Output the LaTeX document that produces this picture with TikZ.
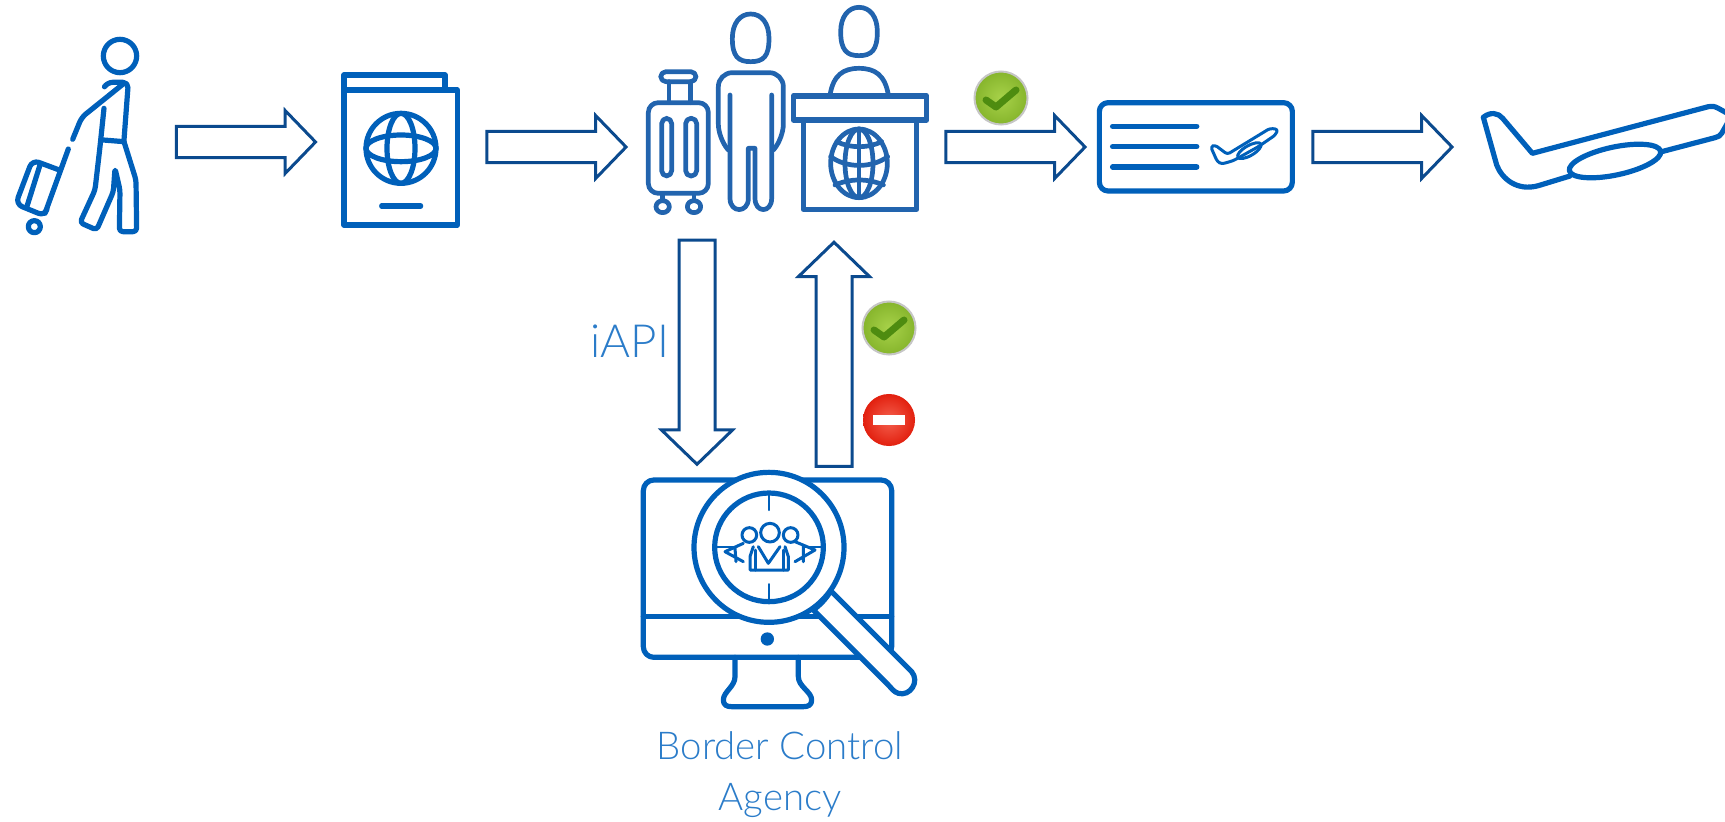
\documentclass[tikz,border=0pt]{standalone}
\usepackage{fontspec}
\usetikzlibrary{shapes.arrows}
\newfontfamily\thinfont{Lato Light}
\definecolor{iconblue}{HTML}{0060BA}
\definecolor{deskblue}{HTML}{2264AE}
\definecolor{arrowblue}{HTML}{0B4A8E}
\definecolor{textblue}{HTML}{2B7CC9}
\definecolor{okinner}{HTML}{A8D24A}
\definecolor{okouter}{HTML}{86B52C}
\definecolor{okdark}{HTML}{4E8C10}
\definecolor{noinner}{HTML}{F4604E}
\definecolor{noouter}{HTML}{E2200F}
\tikzset{
  icon/.style={draw=iconblue,line width=0.052cm,line cap=round,line join=round},
  thin icon/.style={icon,line width=0.03cm},
  desk/.style={draw=deskblue,line width=0.047cm,line cap=round,line join=round},
  blockarrow/.style={single arrow,draw=arrowblue,line width=0.03cm,inner sep=0.14cm,
    minimum height=1.39cm,single arrow head extend=0.16cm,single arrow tip angle=92},
  longarrow/.style={blockarrow,inner sep=0.165cm,minimum height=2.24cm,
    single arrow head extend=0.175cm,shape border rotate=#1},
  okball/.style={circle,draw=gray!45,line width=0.02cm,inner sep=0pt,minimum size=0.53cm,
    inner color=okinner,outer color=okouter},
  okcheck/.style={draw=okdark,line width=0.07cm,line cap=round,line join=round},
  noball/.style={circle,inner sep=0pt,minimum size=0.52cm,inner color=noinner,outer color=noouter},
  label/.style={text=textblue,font=\thinfont\fontsize{10.9pt}{14pt}\selectfont,inner sep=0pt}
}
\begin{document}
\begin{tikzpicture}[x=0.01cm,y=-0.01cm]
\useasboundingbox (0,0) rectangle (1725,821);

\node[blockarrow] (a1) at (238.5,142) {};
\node[blockarrow] (a2) at (549,147) {};
\node[blockarrow] (a3) at (1008,147) {};
\node[blockarrow] (a4) at (1375,147) {};
\node[longarrow=270] (down) at (697,343.5) {};
\node[longarrow=90] (up) at (834,363) {};

%traveller
\begin{scope}[scale=1/3]
\draw[icon] (360,168) circle (50);
\draw[icon,rounded corners=1.5pt] (315,258) -- (322,247) -- (385,247) -- (372,420);
\draw[icon,rounded corners=1.5pt] (372,250) -- (245,352) -- (218,418);
\draw[icon] (310,420) -- (372,425);
\draw[icon,rounded corners=1pt] (312,325) -- (300,440) -- (285,570) -- (240,668) -- (290,690) -- (340,575) -- (345,505) -- (360,570) -- (358,695) -- (410,695) -- (408,540) -- (372,425);
\draw[icon] (205,447) -- (135,640);
\draw[icon,rounded corners=2pt] (178,510) -- (97,480) -- (47,612) -- (135,648) -- (140,630);
\draw[icon] (120,495) -- (80,622);
\draw[icon] (103,680) circle (18);
\end{scope}

%passport
\begin{scope}[scale=1/3]
\draw[icon] (1032,268) -- (1032,225) -- (1335,225) -- (1335,268);
\draw[icon] (1032,270) rectangle (1372,675);
\draw[icon] (1203,445) circle (105);
\draw[icon] (1203,445) ellipse (42 and 105);
\draw[icon] (1203,445) ellipse (105 and 40);
\draw[icon] (1145,618) -- (1262,618);
\end{scope}

%check-in
\begin{scope}[shift={(620,0)},scale=1/3]
\draw[desk,rounded corners=2.8pt] (85,308) rectangle (265,580);
\draw[desk,rounded corners=1.5pt] (122,215) rectangle (228,245);
\draw[desk] (147,245) -- (147,308) (212,245) -- (212,308);
\draw[desk,rounded corners=1.5pt] (125,355) rectangle (155,528);
\draw[desk,rounded corners=1.5pt] (197,355) rectangle (230,528);
\draw[desk] (128,585) -- (128,600) (222,585) -- (222,600);
\draw[desk] (128,620) ellipse (20 and 18) (222,620) ellipse (20 and 18);
\draw[desk] (337,115) .. controls (337,70) and (360,42) .. (392,42) .. controls (425,42) and (447,70) .. (447,115) .. controls (447,170) and (430,185) .. (392,185) .. controls (355,185) and (337,170) .. (337,115) -- cycle;
\draw[desk,rounded corners=4pt] (325,450) -- (295,415) -- (295,218) -- (490,218) -- (490,415) -- (460,450);
\draw[desk] (330,285) -- (330,595) .. controls (330,640) and (385,640) .. (385,595) -- (385,445) -- (405,445) -- (405,595) .. controls (405,640) and (455,640) .. (455,595) -- (455,285);
\draw[desk] (662,95) .. controls (662,50) and (685,22) .. (717,22) .. controls (750,22) and (772,50) .. (772,95) .. controls (772,150) and (755,167) .. (717,167) .. controls (680,167) and (662,150) .. (662,95) -- cycle;
\draw[desk] (630,285) .. controls (640,225) and (670,205) .. (717,205) .. controls (765,205) and (795,225) .. (805,285);
\draw[desk,line width=0.055cm] (520,288) rectangle (920,360);
\draw[desk,line width=0.055cm] (550,360) -- (550,628) -- (890,628) -- (890,360);
\draw[desk] (717,490) ellipse (85 and 103);
\draw[desk] (717,490) ellipse (42 and 103);
\draw[desk] (717,387) -- (717,593);
\draw[desk] (650,425) .. controls (690,445) and (745,445) .. (785,425);
\draw[desk] (632,470) .. controls (680,505) and (755,505) .. (803,470);
\draw[desk] (645,555) .. controls (690,535) and (745,535) .. (790,555);
\end{scope}

%boarding pass
\begin{scope}[shift={(1090,90)},scale=1/3]
\draw[icon,rounded corners=2.5pt] (28,38) rectangle (607,303);
\draw[icon,line width=0.055cm] (68,109) -- (320,109) (68,170) -- (320,170) (68,231) -- (320,231);
\draw[thin icon,rounded corners=0.8pt] (362,170) -- (375,165) -- (412,193) -- (540,115) -- (564,118) -- (556,135) -- (505,170) -- (430,212) -- (395,222) -- (382,215) -- cycle;
\draw[thin icon,rotate around={30:(478,182)}] (478,182) ellipse (40 and 15);
\end{scope}

%plane
\begin{scope}[shift={(1470,90)},scale=1/3]
\draw[icon] (40,82) .. controls (60,65) and (85,68) .. (98,85) -- (187,190) -- (715,50) .. controls (725,46) and (735,50) .. (745,55) -- (772,70);
\draw[icon] (772,100) -- (755,130) .. controls (750,138) and (745,140) .. (735,143) -- (575,185);
\draw[icon] (300,258) -- (205,287) .. controls (140,305) and (95,265) .. (80,225) -- (40,82);
\draw[icon,rotate around={12:(435,213)}] (435,213) ellipse (140 and 42);
\end{scope}

%monitor
\begin{scope}[shift={(620,460)},scale=1/3]
\draw[icon,rounded corners=3pt] (70,60) rectangle (815,592);
\draw[icon] (70,470) -- (815,470);
\fill[iconblue] (442,537) circle (20);
\draw[icon] (345,592) -- (345,650) .. controls (345,680) and (310,695) .. (310,720) .. controls (310,735) and (320,740) .. (335,740) -- (550,740) .. controls (565,740) and (575,735) .. (575,720) .. controls (575,695) and (535,680) .. (535,650) -- (535,592);
\draw[icon,fill=white] (447,262) circle (225);
\draw[icon,fill=white] (632,392) -- (875,635) .. controls (900,665) and (870,710) .. (835,700) .. controls (820,695) and (815,685) .. (805,675) -- (580,450) .. controls (600,435) and (620,415) .. (632,392) -- cycle;
\draw[icon] (447,262) circle (163);
\draw[icon,line width=0.02cm] (447,105) -- (447,150) (447,372) -- (447,420) (290,262) -- (340,262) (555,262) -- (605,262);
\end{scope}

%group in the lens
\begin{scope}[shift={(700,500)},scale=1/3]
\draw[thin icon] (210,98) circle (28) (148,105) circle (22) (272,105) circle (22);
\draw[thin icon] (160,140) -- (150,170) -- (150,210) -- (265,210) -- (265,170) -- (255,140);
\draw[thin icon] (165,150) -- (165,210) (250,150) -- (250,210);
\draw[thin icon] (175,140) -- (205,190) -- (240,140);
\draw[thin icon] (130,130) -- (75,155) -- (130,185) (105,145) -- (108,185);
\draw[thin icon] (285,125) -- (345,150) -- (285,185) (310,140) -- (310,185);
\end{scope}

\node[okball] (ok1) at (1001,98) {};
\node[okball] (ok2) at (889,328) {};
\node[noball] (no1) at (889,420) {};
\foreach \b in {ok1,ok2}
  \draw[okcheck] ([shift={(-15,2)}]\b.center) -- ([shift={(-5,9)}]\b.center) -- ([shift={(15,-8)}]\b.center);
\fill[white] ([shift={(-16,-5)}]no1.center) rectangle ([shift={(16,5)}]no1.center);

\node[label,font=\thinfont\fontsize{13pt}{14pt}\selectfont,anchor=base west] (api) at (590,357) {iAPI};
\node[label] (agency1) at (780,746) {Border Control};
\node[label] (agency2) at (780,800) {Agency};
\end{tikzpicture}
\end{document}
